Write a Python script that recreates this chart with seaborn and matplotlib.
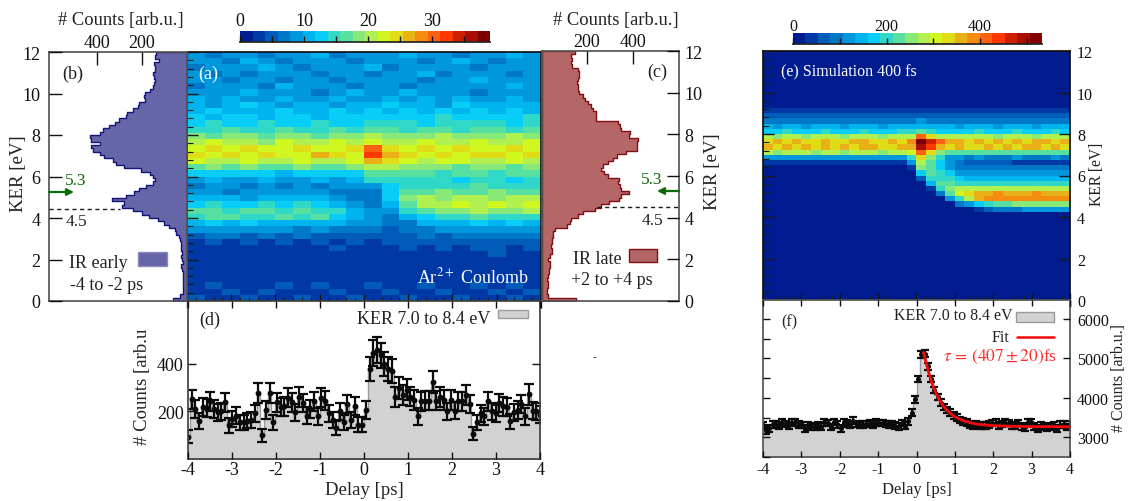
import numpy as np
import seaborn as sns
import matplotlib.pyplot as plt
from matplotlib.colors import ListedColormap
from matplotlib.patches import Rectangle, FancyArrowPatch
from matplotlib.lines import Line2D

W, H = 1128, 502

# colour steps of the two colour bars
map_colors = ["#001c8f", "#0038a6", "#005cb8", "#0078c8", "#0097dd", "#00b4ef", "#08cdf6",
              "#30d8c8", "#58e0a0", "#88e878", "#b0f050", "#d0f820", "#e0dc18", "#eab018",
              "#f48c10", "#fc6010", "#ff3800", "#cc2000", "#a80f00", "#800000"]

# panel (a), rows from KER 12 down to 0, columns from -4 to +4 ps
coulomb_map = [
    [8, 7, 9, 8, 7, 9, 8, 10, 7, 8, 9, 8, 10, 8, 9, 7, 9, 8, 10, 8],
    [9, 8, 7, 10, 8, 7, 9, 8, 9, 7, 8, 9, 8, 7, 9, 10, 8, 7, 9, 8],
    [7, 9, 8, 8, 10, 8, 7, 9, 8, 8, 10, 7, 9, 8, 8, 9, 7, 8, 8, 9],
    [8, 7, 9, 7, 8, 9, 8, 7, 9, 8, 7, 9, 8, 10, 7, 8, 9, 8, 7, 9],
    [8, 9, 7, 9, 8, 7, 9, 8, 7, 9, 8, 8, 9, 7, 9, 8, 10, 9, 8, 8],
    [7, 8, 9, 8, 7, 10, 8, 9, 8, 7, 9, 8, 7, 9, 8, 9, 8, 8, 10, 9],
    [9, 8, 8, 10, 9, 8, 9, 7, 9, 10, 8, 9, 10, 8, 9, 8, 7, 9, 8, 9],
    [10, 9, 11, 9, 8, 10, 9, 8, 10, 9, 9, 10, 9, 11, 9, 10, 9, 8, 10, 9],
    [11, 9, 10, 12, 10, 9, 11, 10, 9, 11, 10, 12, 10, 11, 9, 12, 10, 11, 10, 11],
    [10, 12, 11, 10, 11, 12, 10, 11, 12, 10, 12, 11, 13, 11, 12, 10, 12, 11, 13, 11],
    [12, 11, 13, 12, 11, 13, 12, 11, 12, 13, 12, 13, 12, 13, 14, 12, 13, 12, 12, 14],
    [13, 14, 13, 12, 14, 13, 12, 14, 13, 12, 14, 15, 14, 13, 15, 14, 14, 15, 13, 14],
    [15, 14, 16, 15, 14, 16, 15, 14, 16, 15, 17, 16, 15, 17, 16, 15, 16, 17, 15, 16],
    [18, 17, 19, 18, 17, 18, 19, 17, 18, 19, 20, 18, 19, 18, 20, 19, 18, 19, 20, 18],
    [21, 22, 20, 21, 19, 22, 20, 21, 22, 20, 23, 21, 20, 22, 21, 20, 22, 21, 20, 22],
    [23, 25, 22, 24, 22, 23, 25, 23, 22, 25, 30, 25, 23, 24, 22, 25, 23, 22, 24, 23],
    [24, 23, 25, 22, 24, 23, 22, 26, 24, 23, 33, 27, 24, 23, 25, 22, 24, 25, 23, 24],
    [22, 21, 20, 22, 21, 20, 22, 21, 20, 23, 27, 24, 22, 21, 22, 23, 21, 20, 22, 21],
    [17, 18, 16, 18, 17, 16, 18, 17, 16, 18, 21, 20, 19, 19, 18, 17, 19, 18, 17, 18],
    [13, 12, 13, 12, 13, 11, 13, 12, 13, 13, 17, 16, 17, 16, 15, 17, 16, 15, 17, 16],
    [9, 10, 9, 8, 10, 9, 8, 10, 9, 10, 14, 15, 14, 15, 14, 13, 15, 14, 13, 14],
    [7, 8, 9, 7, 8, 7, 8, 7, 8, 9, 9, 13, 14, 15, 14, 15, 16, 14, 15, 14],
    [9, 8, 7, 9, 8, 9, 8, 9, 7, 7, 7, 13, 17, 16, 18, 16, 17, 18, 16, 17],
    [10, 11, 10, 9, 11, 10, 11, 10, 9, 7, 6, 13, 18, 20, 19, 21, 20, 18, 21, 20],
    [13, 14, 13, 12, 14, 13, 14, 12, 11, 8, 6, 10, 17, 20, 21, 22, 20, 23, 21, 22],
    [16, 17, 15, 17, 16, 15, 17, 15, 14, 11, 8, 8, 14, 17, 18, 19, 20, 18, 19, 20],
    [15, 16, 17, 15, 14, 16, 15, 16, 13, 11, 9, 7, 10, 13, 14, 15, 16, 15, 14, 15],
    [11, 12, 11, 12, 11, 10, 11, 10, 10, 9, 8, 6, 7, 10, 10, 11, 12, 11, 12, 11],
    [8, 9, 8, 9, 8, 8, 7, 8, 7, 7, 6, 5, 6, 7, 8, 8, 8, 9, 8, 8],
    [5, 6, 6, 5, 6, 5, 6, 5, 5, 5, 5, 4, 5, 6, 5, 6, 6, 7, 6, 6],
    [3, 4, 3, 4, 3, 4, 3, 4, 3, 4, 3, 4, 4, 5, 4, 4, 5, 4, 5, 4],
    [3, 3, 2, 3, 3, 2, 3, 3, 4, 3, 3, 3, 4, 3, 4, 3, 4, 4, 3, 4],
    [2, 3, 3, 2, 3, 3, 2, 3, 2, 3, 2, 3, 3, 3, 2, 3, 3, 4, 3, 3],
    [3, 2, 2, 3, 2, 3, 3, 2, 3, 2, 3, 2, 3, 2, 3, 3, 2, 3, 3, 3],
    [2, 3, 2, 2, 3, 2, 2, 3, 2, 3, 2, 3, 2, 3, 2, 2, 3, 2, 3, 2],
    [3, 2, 3, 2, 2, 3, 2, 2, 3, 2, 3, 2, 3, 2, 3, 2, 3, 3, 2, 3],
    [2, 2, 3, 3, 2, 2, 3, 2, 2, 3, 2, 3, 2, 2, 3, 2, 2, 3, 2, 2],
    [3, 4, 3, 3, 3, 4, 3, 4, 3, 3, 4, 3, 3, 4, 3, 3, 4, 3, 4, 3],
    [3, 3, 4, 3, 4, 3, 3, 3, 4, 3, 3, 4, 3, 3, 4, 3, 3, 4, 3, 4],
    [4, 3, 3, 4, 3, 3, 4, 3, 3, 4, 3, 3, 4, 3, 3, 4, 3, 3, 4, 3],
]

# panel (e), only the rows from KER 9.25 down to 4.25 have counts
sim_empty = [10] * 32
sim_band = [
    [30, 28, 32, 30, 28, 30, 32, 30, 28, 30, 32, 30, 28, 30, 32, 30, 35, 32, 30, 30, 30, 32, 28, 30, 32, 30, 28, 32, 30, 28, 32, 30],
    [60, 58, 62, 60, 58, 60, 62, 60, 58, 60, 62, 60, 58, 60, 62, 60, 70, 62, 60, 60, 58, 60, 62, 60, 58, 60, 62, 60, 58, 60, 62, 60],
    [100, 98, 102, 100, 98, 100, 102, 100, 98, 100, 102, 100, 98, 100, 102, 100, 115, 105, 100, 100, 98, 100, 102, 100, 98, 100, 102, 100, 98, 100, 102, 100],
    [135, 132, 138, 135, 132, 135, 138, 135, 132, 135, 138, 135, 132, 135, 138, 135, 150, 140, 135, 135, 132, 135, 138, 135, 132, 135, 138, 135, 132, 135, 138, 135],
    [185, 180, 188, 185, 182, 185, 188, 185, 180, 185, 188, 185, 182, 185, 188, 190, 230, 200, 185, 185, 182, 185, 188, 185, 180, 185, 188, 185, 182, 185, 188, 185],
    [270, 265, 275, 270, 262, 272, 275, 268, 265, 270, 275, 270, 265, 272, 275, 280, 400, 340, 280, 270, 268, 272, 275, 268, 265, 270, 275, 270, 265, 272, 275, 270],
    [345, 355, 340, 350, 338, 345, 352, 345, 340, 348, 355, 345, 340, 350, 345, 380, 510, 470, 400, 370, 350, 345, 355, 345, 352, 340, 358, 345, 350, 355, 345, 352],
    [350, 340, 358, 345, 352, 340, 350, 345, 358, 340, 350, 352, 345, 340, 350, 360, 480, 430, 360, 340, 350, 345, 340, 352, 345, 355, 340, 350, 358, 340, 350, 345],
    [270, 265, 272, 268, 270, 265, 272, 270, 265, 268, 272, 270, 265, 270, 272, 300, 420, 340, 260, 230, 222, 220, 225, 220, 222, 218, 225, 220, 222, 220, 225, 220],
    [130, 128, 132, 130, 128, 130, 132, 130, 128, 130, 132, 130, 128, 130, 132, 200, 340, 260, 190, 130, 120, 105, 108, 105, 102, 105, 108, 105, 102, 105, 108, 105],
    [40, 38, 42, 40, 38, 40, 42, 40, 38, 40, 42, 40, 38, 40, 42, 110, 290, 230, 160, 110, 85, 65, 62, 60, 58, 55, 52, 50, 52, 50, 52, 50],
    [10, 10, 10, 10, 10, 10, 10, 10, 10, 10, 10, 10, 10, 10, 10, 30, 240, 220, 170, 130, 95, 85, 85, 82, 85, 82, 85, 80, 82, 80, 82, 80],
    [10, 10, 10, 10, 10, 10, 10, 10, 10, 10, 10, 10, 10, 10, 10, 10, 170, 220, 190, 160, 130, 120, 118, 120, 115, 118, 120, 115, 118, 115, 118, 115],
    [10, 10, 10, 10, 10, 10, 10, 10, 10, 10, 10, 10, 10, 10, 10, 10, 70, 210, 210, 190, 160, 150, 152, 148, 150, 152, 148, 150, 152, 148, 150, 148],
    [10, 10, 10, 10, 10, 10, 10, 10, 10, 10, 10, 10, 10, 10, 10, 10, 10, 140, 220, 230, 210, 200, 195, 198, 200, 195, 198, 200, 195, 198, 200, 195],
    [10, 10, 10, 10, 10, 10, 10, 10, 10, 10, 10, 10, 10, 10, 10, 10, 10, 40, 190, 260, 280, 270, 272, 268, 270, 272, 268, 270, 272, 268, 270, 268],
    [10, 10, 10, 10, 10, 10, 10, 10, 10, 10, 10, 10, 10, 10, 10, 10, 10, 10, 90, 220, 310, 340, 370, 365, 375, 368, 372, 365, 378, 368, 372, 370],
    [10, 10, 10, 10, 10, 10, 10, 10, 10, 10, 10, 10, 10, 10, 10, 10, 10, 10, 20, 110, 210, 290, 350, 380, 375, 385, 378, 390, 375, 385, 380, 385],
    [10, 10, 10, 10, 10, 10, 10, 10, 10, 10, 10, 10, 10, 10, 10, 10, 10, 10, 10, 20, 80, 120, 170, 200, 230, 235, 240, 245, 250, 248, 252, 250],
    [10, 10, 10, 10, 10, 10, 10, 10, 10, 10, 10, 10, 10, 10, 10, 10, 10, 10, 10, 10, 10, 25, 40, 60, 90, 100, 105, 110, 110, 108, 112, 110],
]
sim_map = [sim_empty] * 11 + sim_band + [sim_empty] * 17

# panels (b) and (c), KER from 0 to 12 in 75 bins
early_counts = [60, 30, 19, 17, 16, 16, 18, 17, 19, 21,
                25, 19, 22, 26, 24, 27, 25, 28, 30, 36,
                47, 53, 78, 100, 130, 170, 200, 240, 286, 280,
                330, 270, 235, 210, 180, 150, 140, 150, 165, 205,
                280, 315, 325, 365, 385, 415, 425, 385, 425, 430,
                385, 370, 345, 320, 300, 270, 265, 240, 215, 210,
                185, 190, 185, 165, 150, 145, 140, 148, 150, 142,
                140, 148, 125, 142, 138]
late_counts = [153, 30, 24, 26, 28, 30, 24, 28, 32, 34,
               36, 38, 30, 38, 45, 48, 42, 46, 48, 50,
               52, 60, 110, 125, 128, 160, 180, 235, 262, 298,
               340, 350, 385, 350, 345, 335, 340, 290, 275, 262,
               270, 290, 315, 330, 370, 420, 420, 418, 422, 385,
               390, 350, 345, 335, 240, 240, 240, 225, 215, 205,
               190, 180, 165, 160, 158, 155, 160, 165, 165, 160,
               135, 130, 135, 128, 148]

# panel (d), 96 delay points
delay_counts = [94, 252, 211, 160, 218, 214, 243, 211, 197, 201,
                239, 141, 169, 183, 155, 155, 162, 165, 193, 277,
                99, 207, 277, 155, 239, 218, 221, 258, 239, 197,
                261, 235, 183, 211, 244, 179, 258, 246, 193, 165,
                131, 201, 155, 232, 165, 225, 145, 145, 207, 380,
                446, 460, 437, 401, 379, 370, 261, 299, 268, 292,
                263, 249, 179, 244, 246, 246, 324, 246, 261, 249,
                201, 249, 204, 244, 244, 268, 232, 106, 155, 193,
                179, 244, 201, 193, 235, 221, 218, 159, 197, 207,
                232, 179, 272, 204, 201, 187]
delay_errors = [26, 40, 37, 32, 38, 37, 40, 37, 36, 36,
                40, 31, 33, 35, 32, 32, 33, 33, 36, 43,
                26, 37, 43, 32, 40, 38, 38, 41, 40, 36,
                42, 39, 35, 37, 40, 34, 41, 40, 36, 33,
                30, 36, 32, 39, 33, 38, 31, 31, 37, 50,
                54, 55, 53, 51, 50, 50, 42, 45, 42, 44,
                42, 41, 34, 40, 40, 40, 46, 40, 41, 41,
                36, 41, 37, 40, 40, 42, 39, 27, 32, 36,
                34, 40, 36, 36, 39, 38, 38, 32, 36, 37,
                39, 34, 43, 37, 36, 35]

# panel (f), same delay points, and the fit line
sim_counts = [3300, 3180, 3230, 3330, 3320, 3290, 3370, 3340, 3300, 3370,
              3380, 3320, 3310, 3220, 3300, 3280, 3260, 3290, 3270, 3380,
              3360, 3260, 3390, 3330, 3230, 3380, 3350, 3320, 3420, 3340,
              3310, 3320, 3340, 3350, 3320, 3370, 3360, 3360, 3340, 3330,
              3320, 3290, 3270, 3360, 3290, 3400, 3620, 3960, 4480, 5100,
              5120, 4800, 4480, 4200, 4020, 3880, 3770, 3690, 3620, 3560,
              3500, 3440, 3400, 3380, 3320, 3300, 3320, 3300, 3290, 3300,
              3320, 3360, 3370, 3290, 3340, 3370, 3360, 3300, 3290, 3360,
              3280, 3250, 3390, 3380, 3270, 3220, 3300, 3280, 3250, 3270,
              3300, 3220, 3320, 3330, 3260, 3330]
sim_error = 85
fit_delay = [0.18, 0.3, 0.4, 0.5, 0.6, 0.7, 0.8, 0.9, 1.0, 1.2, 1.4, 1.6, 1.8, 2.0, 2.5, 3.0, 3.5, 4.0]
fit_counts = [5150, 4700, 4380, 4130, 3940, 3790, 3680, 3590, 3520, 3430, 3370, 3330, 3310, 3295, 3280, 3270, 3270, 3265]

delay_points = np.linspace(-4, 4, 96)
step = delay_points[1] - delay_points[0]
delay_range = (-4 - step / 2, 4 + step / 2)
ker_centers = (np.arange(75) + 0.5) * 12 / 75

sns.set_theme(style="ticks")
plt.rcParams["font.family"] = ["Liberation Serif"]
plt.rcParams["mathtext.fontset"] = "stix"
plt.rcParams["axes.axisbelow"] = False
plt.rcParams["axes.unicode_minus"] = False
plt.rcParams["axes.edgecolor"] = "#222222"
plt.rcParams["xtick.color"] = "#111111"
plt.rcParams["ytick.color"] = "#111111"
plt.rcParams["text.color"] = "#222222"

fig = plt.figure(figsize=(W / 100, H / 100), dpi=100)
cmap = ListedColormap(map_colors)


def box(x0, y0, x1, y1):
    return fig.add_axes([x0 / W, 1 - y1 / H, (x1 - x0) / W, (y1 - y0) / H])


def put(x, y, s, **kw):
    kw.setdefault("ha", "center")
    kw.setdefault("va", "center")
    fig.text(x / W, 1 - y / H, s, **kw)


def swatch(x0, y0, x1, y1, face, edge):
    fig.add_artist(Rectangle((x0 / W, 1 - y1 / H), (x1 - x0) / W, (y1 - y0) / H,
                             transform=fig.transFigure, facecolor=face, edgecolor=edge, lw=1))


def line(x0, x1, y, **kw):
    fig.add_artist(Line2D([x0 / W, x1 / W], [1 - y / H, 1 - y / H], transform=fig.transFigure, **kw))


def arrow(x0, x1, y):
    fig.add_artist(FancyArrowPatch((x0 / W, 1 - y / H), (x1 / W, 1 - y / H), transform=fig.transFigure,
                                   arrowstyle="-|>", mutation_scale=10, color="#0b6a0b", lw=1.6,
                                   shrinkA=0, shrinkB=0))


def draw_map(ax, cax, data, vmax, ticks, labels, size, pad):
    sns.heatmap(data, ax=ax, cmap=cmap, vmin=0, vmax=vmax, cbar_ax=cax,
                cbar_kws={"orientation": "horizontal"}, xticklabels=False, yticklabels=False)
    for s in ax.spines.values():
        s.set_visible(True)
        s.set_color("#111111")
    rows, cols = np.shape(data)
    xpos = lambda d: (np.asarray(d) + 4) / 8 * cols
    ypos = lambda k: (12 - np.asarray(k)) / 12 * rows
    ax.set_xticks(xpos(np.arange(-4, 5)))
    ax.set_xticks(xpos(np.arange(-4, 4.01, 0.2)), minor=True)
    ax.set_yticks(ypos(np.arange(0, 13, 2)))
    ax.set_yticks(ypos(np.arange(0, 12.01, 0.4)), minor=True)
    ax.tick_params(axis="x", which="major", direction="inout", length=10, width=1, bottom=True)
    ax.tick_params(axis="x", which="minor", direction="in", length=3, width=0.8, bottom=True, color="k")
    ax.tick_params(axis="y", which="major", direction="in", length=8, width=1, left=True, color="k")
    ax.tick_params(axis="y", which="minor", direction="in", length=4, width=0.8, left=True, color="k")
    cbar = ax.collections[0].colorbar
    cbar.outline.set_visible(False)
    cax.spines["bottom"].set_visible(True)
    cax.set_xticks(ticks)
    cax.set_xticklabels(labels)
    cax.tick_params(axis="x", direction="in", length=4, width=1, bottom=True, top=False,
                    labelbottom=False, labeltop=True, labelsize=size, pad=pad)


def draw_side(ax, counts, face, edge):
    sns.histplot(y=ker_centers, weights=counts, bins=75, binrange=(0, 12), element="step",
                 color=face, edgecolor=edge, alpha=1, linewidth=1, ax=ax)
    ax.set_ylim(0, 12)
    ax.set_xlabel("")
    ax.set_ylabel("")
    ax.set_xticks([200, 400])
    ax.set_yticks(range(0, 13, 2))
    for s in ax.spines.values():
        s.set_visible(True)
        s.set_color("#555555")


# ---- left figure
ax_a = box(187, 53, 541, 302)
cax_a = box(240, 32, 490, 43)
draw_map(ax_a, cax_a, coulomb_map, 39, [0, 5, 10, 15, 20, 25, 30, 35],
         ["0", "", "10", "", "20", "", "30", ""], 13, 1.5)
ax_a.tick_params(axis="x", which="major", labelbottom=False)

ax_b = box(49, 53, 187, 302)
draw_side(ax_b, early_counts, "#6565a8", "#14147a")
ax_b.set_xlim(610, 0)
ax_b.tick_params(axis="x", direction="in", length=9, width=1, top=True, bottom=False,
                 labeltop=True, labelbottom=False, labelsize=13, pad=0.5)
ax_b.tick_params(axis="y", direction="in", length=9, width=1, left=True, labelsize=13, pad=6)

ax_c = box(541.5, 52, 679, 302)
draw_side(ax_c, late_counts, "#b56666", "#7f0f14")
ax_c.set_xlim(0, 603)
ax_c.tick_params(axis="x", direction="in", length=9, width=1, top=True, bottom=False,
                 labeltop=True, labelbottom=False, labelsize=13, pad=0.5)
ax_c.tick_params(axis="y", direction="in", length=9, width=1, left=False, right=True,
                 labelleft=False, labelright=True, labelsize=13, pad=4)

ax_d = box(188, 302, 540, 460)
sns.histplot(x=delay_points, weights=delay_counts, bins=96, binrange=delay_range, element="step",
             color="#d2d2d2", edgecolor="#9a9a9a", alpha=1, linewidth=1, ax=ax_d)
ax_d.errorbar(delay_points, delay_counts, yerr=delay_errors, fmt="o", ms=3.2, color="#0a0a0a",
              elinewidth=1.6, capsize=3.5, capthick=1.6)
ax_d.set_xlim(-4, 4)
ax_d.set_ylim(0, 665)
ax_d.set_xlabel("")
ax_d.set_ylabel("")
ax_d.set_xticks(range(-4, 5))
ax_d.set_yticks([200, 400])
ax_d.tick_params(axis="x", direction="in", length=5, width=1, top=True, labelsize=13, pad=1.5)
ax_d.tick_params(axis="y", direction="in", length=6, width=1, right=True, labelsize=13, pad=3)
for s in ax_d.spines.values():
    s.set_visible(True)
    s.set_color("#444444")

put(121, 20, "# Counts [arb.u.]", fontsize=13.3)
put(615.5, 20, "# Counts [arb.u.]", fontsize=13.3)
put(18, 174, "KER [eV]", fontsize=13.5, rotation=90)
put(712, 172, "KER [eV]", fontsize=13.5, rotation=90)
put(72.5, 74, "(b)", fontsize=13)
put(208, 74, "(a)", fontsize=13, color="white")
put(657, 72, "(c)", fontsize=13)
put(76, 181, "5.3", fontsize=12.5, color="#0b6a0b")
put(652, 180, "5.3", fontsize=12.5, color="#0b6a0b")
arrow(49, 74, 193)
arrow(679, 657, 192)
line(49, 120, 209.5, color="k", lw=1, ls=(0, (3, 2.5)))
line(597, 679, 208, color="k", lw=1, ls=(0, (3, 2.5)))
put(76, 222, "4.5", fontsize=12.5)
put(652, 221, "4.5", fontsize=12.5)
put(98, 263, "IR early", fontsize=13)
put(107, 285, "-4 to -2 ps", fontsize=13)
swatch(138, 253, 167, 267, "#6565a8", "#8a8ac0")
put(597, 260, "IR late", fontsize=13)
put(612, 281, "+2 to +4 ps", fontsize=13)
swatch(629, 250, 657, 263, "#b56666", "#7f0f14")
put(473, 277, "Ar$^{2+}$ Coulomb", fontsize=13, color="white")
put(210, 320, "(d)", fontsize=13)
put(490, 319, "KER 7.0 to 8.4 eV", fontsize=13, ha="right")
swatch(498, 311, 528, 319, "#d2d2d2", "#9a9a9a")
put(143, 387, "# Counts [arb.u", fontsize=13.5, rotation=90)
put(364, 491, "Delay [ps]", fontsize=13.5)
put(594, 358, "-", fontsize=8)

# ---- right figure
ax_e = box(763, 52, 1070, 301)
cax_e = box(793, 34, 1042, 45)
draw_map(ax_e, cax_e, sim_map, 532, [0, 100, 200, 300, 400, 500],
         ["0", "", "200", "", "400", ""], 11.5, -1)
ax_e.tick_params(axis="x", which="major", labelbottom=False)
ax_e.set_yticklabels([str(k) for k in range(0, 13, 2)])
ax_e.tick_params(axis="y", which="major", right=True, labelleft=False,
                 labelright=True, labelsize=11.5, pad=5)

ax_f = box(763, 301, 1070, 458)
sns.histplot(x=delay_points, weights=sim_counts, bins=96, binrange=delay_range, element="step",
             color="#d2d2d2", edgecolor="#9a9a9a", alpha=1, linewidth=1, ax=ax_f)
ax_f.errorbar(delay_points, sim_counts, yerr=sim_error, fmt="o", ms=2.6, color="#0a0a0a",
              elinewidth=1.6, capsize=3, capthick=1.6)
sns.lineplot(x=fit_delay, y=fit_counts, color="#f00a0a", linewidth=2, errorbar=None, zorder=5, ax=ax_f)
ax_f.set_xlim(-4, 4)
ax_f.set_ylim(2500, 6480)
ax_f.set_xlabel("")
ax_f.set_ylabel("")
ax_f.set_xticks(range(-4, 5))
ax_f.set_yticks([3000, 4000, 5000, 6000])
ax_f.set_yticks([2500, 3500, 4500, 5500], minor=True)
ax_f.tick_params(axis="x", direction="in", length=4, width=1, top=True, labelsize=11.5, pad=3)
ax_f.tick_params(axis="y", which="major", direction="in", length=5, width=1, left=True, right=True,
                 labelleft=False, labelright=True, labelsize=11.5, pad=5)
ax_f.tick_params(axis="y", which="minor", direction="in", length=5, width=1, left=True)
for s in ax_f.spines.values():
    s.set_visible(True)
    s.set_color("#555555")

put(781, 71, "(e) Simulation 400 fs", fontsize=11.5, color="white", ha="left")
put(1097, 174, "KER [eV]", fontsize=11.2, rotation=90)
put(789, 322, "(f)", fontsize=11.5)
put(1012, 316, "KER 7.0 to 8.4 eV", fontsize=11.5, ha="right")
swatch(1016, 313, 1054, 323, "#d2d2d2", "#9a9a9a")
put(1009, 338, "Fit", fontsize=11.5, ha="right")
line(1017, 1054, 338, color="#f00a0a", lw=1.8)
put(1057, 357, r"$\tau\,=\,(407\pm20)$fs", fontsize=12.5, ha="right", color="#ff2a2a")
put(1119, 378, "# Counts [arb.u.]", fontsize=11.5, rotation=90)
put(917, 490, "Delay [ps]", fontsize=12)

fig.savefig("out.png", dpi=100)
